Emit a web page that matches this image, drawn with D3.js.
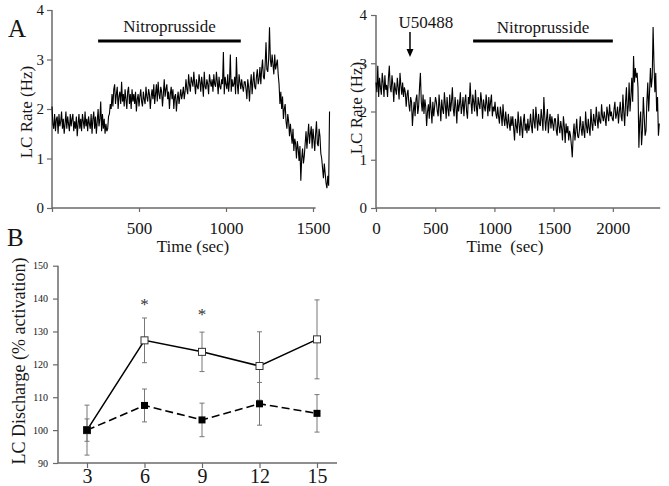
<!DOCTYPE html>
<html><head><meta charset="utf-8">
<script src="https://cdn.jsdelivr.net/npm/d3@7"></script>
<style>
body{margin:0;background:#fff}
svg{display:block}
</style>
</head><body><svg id="c" width="669" height="486"></svg>
<script>
// ---------- Data ----------
const traceAStep = 5;   // seconds between samples, left recording
const traceA = [
 2.05,1.7,1.6,1.9,1.55,1.8,1.85,1.5,1.9,1.65,1.75,1.95,1.6,1.8,1.5,1.7,1.95,1.6,1.85,1.7,1.55,1.9,1.65,1.8,1.9,1.55,1.75,1.6,1.85,1.45,1.7,1.9,
 1.6,1.8,1.55,1.9,1.75,1.6,1.95,1.65,1.8,1.55,1.85,1.7,1.6,1.9,1.5,1.8,1.95,1.6,1.85,1.5,1.75,2.0,1.65,1.8,2.15,1.55,1.9,1.6,1.8,1.5,1.7,1.55,
 1.6,1.85,1.9,2.1,2.0,2.3,
 2.05,2.4,2.5,2.1,2.3,2.45,2.0,2.25,2.35,2.1,2.55,2.15,2.3,2.05,2.4,2.2,2.0,2.35,2.45,2.1,2.3,2.0,2.4,2.15,2.3,2.1,2.35,1.95,2.2,2.3,2.05,2.25,
 2.4,2.15,2.05,2.35,2.2,2.1,2.45,2.25,2.15,2.4,2.3,2.0,2.25,2.4,2.2,2.5,2.1,2.3,2.5,2.15,2.55,2.3,2.2,2.45,2.35,2.05,2.3,2.6,2.25,2.4,2.5,2.2,2.35,2.0,2.3,2.45,2.2,2.4,
 2.0,2.25,2.3,1.95,2.2,2.35,2.1,2.25,2.4,2.2,2.3,2.45,2.2,2.35,
 2.6,2.4,2.3,2.7,2.5,2.35,2.65,2.55,2.45,2.75,2.5,2.3,2.6,2.45,2.4,2.7,2.55,2.35,2.65,2.5,
 2.25,2.75,2.45,2.4,2.6,2.5,2.3,2.7,2.55,2.45,2.6,2.35,2.7,2.5,2.45,2.75,2.55,2.3,2.65,2.45,
 2.4,2.6,2.5,3.15,2.3,2.65,2.5,2.4,2.7,2.35,2.55,3.1,2.35,2.6,2.45,2.5,2.65,2.3,3.05,2.5,
 2.3,2.7,2.55,2.4,2.6,2.45,2.35,2.55,
 2.55,2.4,2.2,2.6,2.45,2.15,2.5,2.7,2.3,2.55,2.75,2.45,2.4,2.65,2.8,2.5,2.6,2.85,
 2.5,2.8,3.0,2.65,2.6,2.9,3.35,2.8,2.75,3.0,3.65,3.0,2.85,3.1,2.9,2.7,3.1,2.8,2.9,3.0,
 2.7,2.5,2.1,2.35,2.0,2.25,1.8,2.0,2.1,1.75,
 1.6,1.9,1.75,1.45,1.7,1.5,1.3,1.6,1.15,1.4,1.3,1.0,1.35,1.2,0.95,1.25,0.55,1.0,1.2,0.9,
 1.05,1.3,1.55,1.2,1.45,1.7,1.3,1.5,1.65,1.2,1.6,1.4,1.15,1.5,1.75,1.3,1.25,1.6,1.45,1.1,
 1.0,0.8,0.6,0.9,0.7,0.5,0.4,0.65,0.45,1.95
];
const traceBStep = 7.5;   // seconds between samples, right recording
const traceB = [
 2.6,2.4,2.95,2.3,2.7,2.5,2.35,2.8,2.6,2.3,2.75,2.45,2.55,2.3,2.7,2.95,2.5,2.4,2.75,2.55,2.2,2.6,2.45,2.35,2.7,2.5,2.25,2.8,2.55,2.35,2.6,2.3,2.5,2.4,
 2.1,2.35,2.45,2.15,2.0,2.3,2.2,
 1.7,2.0,2.2,1.9,2.25,2.35,1.95,2.1,2.5,2.8,2.2,2.0,2.35,
 1.95,2.25,2.1,1.7,2.0,2.15,1.85,2.3,2.05,1.75,2.2,1.9,2.1,2.3,
 2.2,2.0,1.9,2.35,2.1,1.8,2.25,2.05,1.95,2.4,2.15,1.85,2.3,2.05,1.9,2.35,2.0,2.2,2.5,2.05,
 1.9,2.3,2.1,1.75,2.25,2.0,2.15,2.4,1.95,2.1,2.3,1.9,2.2,2.35,2.0,1.85,2.3,2.15,2.6,2.2,
 1.95,2.35,2.2,2.0,2.45,2.1,1.9,2.3,2.15,2.05,2.4,2.2,1.85,2.25,2.1,2.0,2.35,2.15,1.9,2.3,2.0,2.2,2.35,1.9,2.1,2.0,
 2.2,1.95,1.85,2.1,1.9,1.75,2.1,1.95,1.7,2.15,1.85,1.7,2.0,1.8,1.65,1.95,1.75,1.6,1.9,1.7,
 1.9,1.65,1.4,1.85,1.7,1.55,2.0,1.75,1.5,1.9,1.7,1.45,1.8,1.95,1.6,1.75,1.55,1.85,1.6,1.7,
 1.95,1.7,1.55,2.05,1.8,1.65,2.1,1.85,1.6,1.95,1.75,1.7,2.05,1.85,1.6,2.3,1.9,1.6,1.85,2.05,1.55,1.8,1.95,1.65,1.9,1.75,1.6,1.85,
 1.85,1.6,1.5,1.95,1.7,1.55,1.8,1.65,1.4,1.9,1.7,1.35,1.75,1.55,1.7,1.4,1.6,1.5,1.3,1.05,1.5,1.75,1.4,1.6,1.85,1.5,1.45,1.6,
 1.9,1.65,1.5,1.8,1.6,1.45,2.0,1.7,1.55,1.85,1.65,1.5,2.05,1.75,1.6,1.95,1.8,1.7,2.1,1.85,1.65,2.0,1.8,1.75,2.15,1.9,1.8,2.0,1.85,1.7,2.1,1.95,1.8,2.15,1.9,2.0,1.85,
 1.8,2.05,2.2,1.85,1.95,2.1,1.75,2.0,2.2,1.9,1.8,2.35,2.0,1.7,2.2,2.5,1.9,2.1,2.6,2.0,2.3,2.7,2.2,
 3.15,2.6,2.9,2.7,2.8,2.5,
 1.25,1.8,2.0,1.3,1.6,2.3,1.9,1.5,
 1.6,2.2,2.6,2.0,2.4,2.9,2.5,2.7,
 3.75,3.0,2.4,2.8,2.0,2.3,1.5,1.75
];
const drugBarA = [265, 1085];
const drugBarB = [820, 2000];
const u50488Time = 287;
const rateTicks = [0,1,2,3,4];
const timeTicksA = [500,1000,1500];
const timeTicksB = [0,500,1000,1500,2000];

const minutes = [3,6,9,12,15];
const openMean = [100,127.3,123.8,119.5,127.6];
const openErr  = [7.6,6.8,6.0,10.4,12.0];
const filledMean = [100,107.5,103.1,108,105.1];
const filledErr  = [3.4,5.0,5.1,6.5,5.7];
const starMinutes = [6,9];
const starValues = [139,136];
const dischargeTicks = [90,100,110,120,130,140,150];

// ---------- Drawing ----------
const FONT = '"Liberation Serif","Times New Roman",Times,serif';
const svg = d3.select("#c").attr("font-family",FONT);
const AX = "#6a6a6a";
const TXT = "#151515";

function styleAxis(g, fs){
  g.attr("font-family",FONT).attr("font-size",fs);
  g.selectAll("line").attr("stroke",AX).attr("stroke-width",1.2);
  g.selectAll("path").remove();
  g.selectAll("text").attr("font-size",fs).attr("fill",TXT).attr("font-family",FONT);
}
function label(parent){
  return parent.append("text").attr("font-family",FONT).attr("fill",TXT);
}
const fmt = d3.format("d");

// ===== Panel A left =====
const xA = d3.scaleLinear().domain([0,1600]).range([52, 330.4]);
const yA = d3.scaleLinear().domain([0,4]).range([208,10]);
const gA = svg.append("g");
gA.append("g").attr("transform","translate(52,0)")
  .call(d3.axisLeft(yA).tickValues(rateTicks).tickSize(5).tickPadding(3).tickFormat(fmt))
  .call(g=>styleAxis(g,15));
gA.append("g").attr("transform","translate(0,208)")
  .call(d3.axisBottom(xA).tickValues([0].concat(timeTicksA)).tickSize(4).tickPadding(10).tickFormat(d=>d===0?"":fmt(d)))
  .call(g=>styleAxis(g,17));
gA.append("line").attr("x1",xA(0)).attr("x2",xA(1515)).attr("y1",208).attr("y2",208).attr("stroke",AX).attr("stroke-width",1.5);
gA.append("line").attr("x1",52).attr("x2",52).attr("y1",yA(0)).attr("y2",yA(4)).attr("stroke",AX).attr("stroke-width",1.5);
gA.append("path").datum(traceA)
  .attr("d", d3.line().x((d,i)=>xA(i*traceAStep)).y(d=>yA(d)))
  .attr("fill","none").attr("stroke","#000").attr("stroke-width",1.1);
gA.append("line").attr("x1",xA(drugBarA[0])).attr("x2",xA(drugBarA[1])).attr("y1",41).attr("y2",41)
  .attr("stroke","#000").attr("stroke-width",3.2);
label(gA).attr("x",xA((drugBarA[0]+drugBarA[1])/2)).attr("y",32).attr("text-anchor","middle")
  .attr("font-size",17).text("Nitroprusside");
label(gA).attr("x",193).attr("y",252).attr("text-anchor","middle").attr("font-size",17).text("Time (sec)");
label(gA).attr("transform","translate(32,112) rotate(-90)").attr("text-anchor","middle")
  .attr("font-size",17).text("LC Rate (Hz)");
label(svg).attr("x",8).attr("y",37).attr("font-size",25).text("A");

// ===== Panel A right =====
const xB = d3.scaleLinear().domain([0,2400]).range([376, 660.2]);
const yB = d3.scaleLinear().domain([0,4]).range([208,15]);
const gB = svg.append("g");
gB.append("g").attr("transform","translate(376,0)")
  .call(d3.axisLeft(yB).tickValues(rateTicks).tickSize(5).tickPadding(4).tickFormat(fmt))
  .call(g=>styleAxis(g,15));
gB.append("g").attr("transform","translate(0,208)")
  .call(d3.axisBottom(xB).tickValues(timeTicksB).tickSize(4).tickPadding(10).tickFormat(fmt))
  .call(g=>styleAxis(g,17));
gB.append("line").attr("x1",xB(0)).attr("x2",xB(2400)).attr("y1",208).attr("y2",208).attr("stroke",AX).attr("stroke-width",1.5);
gB.append("line").attr("x1",376).attr("x2",376).attr("y1",yB(0)).attr("y2",yB(4)).attr("stroke",AX).attr("stroke-width",1.5);
gB.append("path").datum(traceB)
  .attr("d", d3.line().x((d,i)=>xB(i*traceBStep)).y(d=>yB(d)))
  .attr("fill","none").attr("stroke","#000").attr("stroke-width",1.1);
gB.append("line").attr("x1",xB(drugBarB[0])).attr("x2",xB(drugBarB[1])).attr("y1",41).attr("y2",41)
  .attr("stroke","#000").attr("stroke-width",3.2);
label(gB).attr("x",xB((drugBarB[0]+drugBarB[1])/2)).attr("y",33).attr("text-anchor","middle")
  .attr("font-size",17).text("Nitroprusside");
const ux = xB(u50488Time);
label(gB).attr("x",ux+16).attr("y",28).attr("text-anchor","middle").attr("font-size",17).text("U50488");
gB.append("line").attr("x1",ux).attr("x2",ux).attr("y1",32).attr("y2",50).attr("stroke","#000").attr("stroke-width",1.5);
gB.append("path").attr("d",`M${ux-3.5},49 L${ux+3.5},49 L${ux},57 Z`).attr("fill","#000");
label(gB).attr("x",505).attr("y",252).attr("text-anchor","middle").attr("font-size",17)
  .style("white-space","pre").text("Time  (sec)");
label(gB).attr("transform","translate(362,108) rotate(-90)").attr("text-anchor","middle")
  .attr("font-size",17).text("LC Rate (Hz)");

// ===== Panel B =====
const xC = d3.scaleLinear().domain([3,15]).range([87,317]);
const yC = d3.scaleLinear().domain([90,150]).range([463,265.7]);
const gC = svg.append("g");
gC.append("g").attr("transform","translate(58,0)")
  .call(d3.axisLeft(yC).tickValues(dischargeTicks).tickSize(5).tickPadding(5).tickFormat(fmt))
  .call(g=>styleAxis(g,10));
gC.append("g").attr("transform","translate(0,463)")
  .call(d3.axisBottom(xC).tickValues(minutes).tickSize(5).tickPadding(1).tickFormat(fmt))
  .call(g=>styleAxis(g,20));
gC.append("line").attr("x1",58).attr("x2",337).attr("y1",463).attr("y2",463).attr("stroke",AX).attr("stroke-width",1.5);
gC.append("line").attr("x1",58).attr("x2",58).attr("y1",yC(90)).attr("y2",yC(150)).attr("stroke",AX).attr("stroke-width",1.5);

function errBars(mean, err){
  const g = gC.append("g").attr("stroke","#777").attr("stroke-width",1);
  minutes.forEach((m,i)=>{
    const x = xC(m), y1 = yC(mean[i]+err[i]), y2 = yC(mean[i]-err[i]);
    g.append("line").attr("x1",x).attr("x2",x).attr("y1",y1).attr("y2",y2);
    g.append("line").attr("x1",x-2.5).attr("x2",x+2.5).attr("y1",y1).attr("y2",y1);
    g.append("line").attr("x1",x-2.5).attr("x2",x+2.5).attr("y1",y2).attr("y2",y2);
  });
}
errBars(openMean, openErr);
errBars(filledMean, filledErr);

const lineC = d3.line().x((d,i)=>xC(minutes[i])).y(d=>yC(d));
gC.append("path").datum(openMean).attr("d",lineC).attr("fill","none").attr("stroke","#000").attr("stroke-width",1.5);
gC.append("path").datum(filledMean).attr("d",lineC).attr("fill","none").attr("stroke","#000").attr("stroke-width",1.6)
  .attr("stroke-dasharray","8,4");

const S = 7;
gC.selectAll("rect.f").data(filledMean).join("rect")
  .attr("x",(d,i)=>xC(minutes[i])-S/2).attr("y",d=>yC(d)-S/2).attr("width",S).attr("height",S)
  .attr("fill","#000");
gC.selectAll("rect.o").data(openMean).join("rect")
  .attr("x",(d,i)=>xC(minutes[i])-S/2).attr("y",d=>yC(d)-S/2).attr("width",S).attr("height",S)
  .attr("fill","#fff").attr("stroke","#333").attr("stroke-width",1);
gC.append("rect").attr("x",xC(minutes[0])-S/2).attr("y",yC(filledMean[0])-S/2).attr("width",S).attr("height",S).attr("fill","#000");

gC.selectAll("text.star").data(starValues).join("text")
  .attr("font-family",FONT)
  .attr("x",(d,i)=>xC(starMinutes[i])).attr("y",d=>yC(d)+8).attr("text-anchor","middle")
  .attr("font-size",17).attr("fill","#333").text("*");

label(gC).attr("transform","translate(25,361) rotate(-90)").attr("text-anchor","middle")
  .attr("font-size",18).text("LC Discharge (% activation)");
label(svg).attr("x",7).attr("y",246).attr("font-size",25).text("B");
</script>
</body></html>
